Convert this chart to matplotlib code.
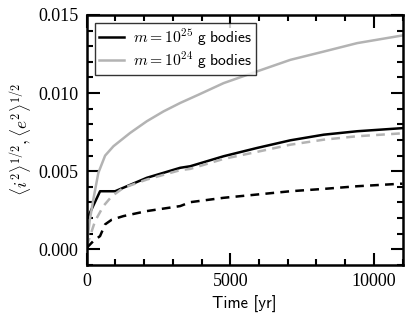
import matplotlib
matplotlib.use("Agg")
import matplotlib.pyplot as plt
from matplotlib.ticker import MultipleLocator

plt.rcParams['mathtext.fontset'] = 'cm'
plt.rcParams['axes.unicode_minus'] = False

# Time grids (yr) and values
t_e25 = [0, 464, 988, 2093, 3256, 3605, 4768, 5933, 7094, 8256, 9421, 10930, 11000]
e_e25 = [0.0019, 0.00372, 0.00372, 0.00458, 0.00522, 0.00532, 0.00596, 0.00649, 0.00698, 0.00734, 0.00756, 0.00775, 0.00776]

t_e24 = [0, 100, 230, 405, 640, 930, 1510, 2093, 2674, 3256, 3895, 4768, 5933, 7094, 8256, 9421, 10930, 11000]
e_e24 = [0.0002, 0.0018, 0.0032, 0.0049, 0.0060, 0.0066, 0.00745, 0.0082, 0.00883, 0.00937, 0.0099, 0.01064, 0.01139, 0.01213, 0.01266, 0.0132, 0.01367, 0.01369]

t_i24 = [0, 290, 580, 872, 1280, 2093, 3256, 3605, 4768, 5933, 7094, 8256, 9421, 10930, 11000]
i_i24 = [0.0002, 0.00181, 0.00277, 0.0034, 0.00394, 0.00447, 0.00507, 0.00515, 0.00579, 0.00624, 0.0067, 0.00702, 0.00724, 0.00742, 0.00743]

t_i25 = [0, 230, 464, 640, 872, 1280, 2093, 3256, 3605, 4768, 5933, 7094, 8256, 9421, 10930, 11000]
i_i25 = [0.0001, 0.00053, 0.00085, 0.0016, 0.0019, 0.00213, 0.00245, 0.00277, 0.00302, 0.0033, 0.00351, 0.00372, 0.00387, 0.00404, 0.0042, 0.0042]

labels = [r'$m = 10^{25}\ \mathsf{g\ bodies}$', r'$m = 10^{24}\ \mathsf{g\ bodies}$']
xticks = [0, 5000, 10000]
yticks = [0.000, 0.005, 0.010, 0.015]

gray = '#b3b3b3'
fig = plt.figure(figsize=(4.15, 3.23), dpi=100)
ax = fig.add_axes([0.209, 0.1796, 0.761, 0.774])

ax.plot(t_e25, e_e25, color='black', lw=1.8, label=labels[0])
ax.plot(t_e24, e_e24, color=gray, lw=1.8, label=labels[1])
ax.plot(t_i24, i_i24, color=gray, lw=1.8, ls=(0, (3.5, 2.5)))
ax.plot(t_i25, i_i25, color='black', lw=1.8, ls=(0, (3.5, 2.5)))

ax.set_xlim(0, 11000)
ax.set_ylim(-0.001, 0.015)
ax.set_xticks(xticks)
ax.set_yticks(yticks)
ax.set_xticklabels([str(v) for v in xticks], family='Liberation Serif', fontsize=13)
ax.set_yticklabels(['%.3f' % v for v in yticks], family='Liberation Serif', fontsize=13)
ax.xaxis.set_minor_locator(MultipleLocator(1000))
ax.yaxis.set_minor_locator(MultipleLocator(0.001))
ax.tick_params(which='both', direction='in', top=True, right=True, width=1.5)
ax.tick_params(which='major', length=9, pad=6)
ax.tick_params(which='minor', length=4.5)
for s in ax.spines.values():
    s.set_linewidth(1.8)

ax.set_xlabel('Time [yr]', family='cmss10', fontsize=12, labelpad=4)
ax.set_ylabel(r'$\langle i^2\rangle^{1/2}, \langle e^2\rangle^{1/2}$', fontsize=12.5, labelpad=4)

leg = ax.legend(loc='upper left', fontsize=11.3, fancybox=False, frameon=True,
                handlelength=1.6, borderpad=0.25, labelspacing=0.1, handletextpad=0.6,
                borderaxespad=0.5)
leg.get_frame().set_edgecolor('black')
leg.get_frame().set_linewidth(1.0)

fig.savefig('out.png', dpi=100)
